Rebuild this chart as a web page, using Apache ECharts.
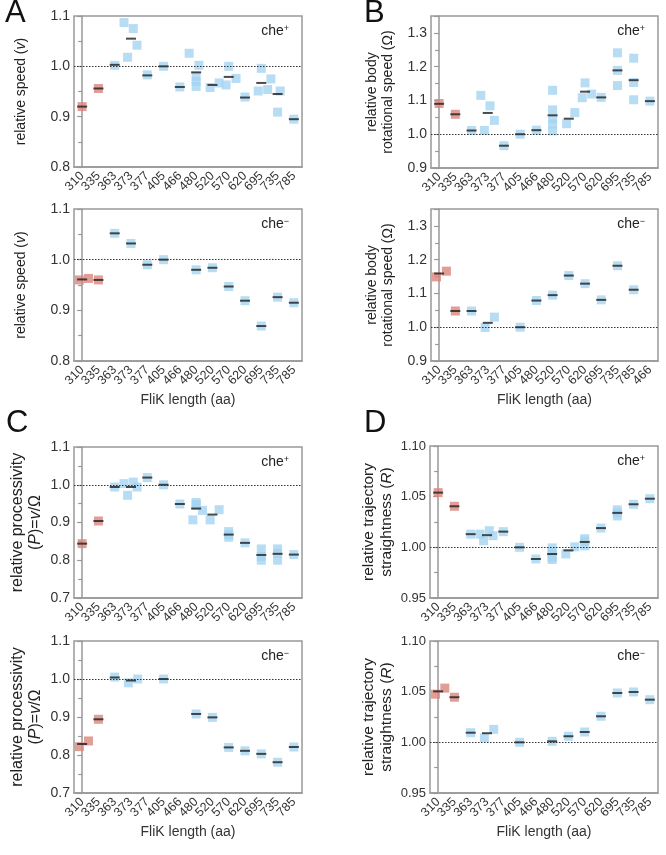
<!DOCTYPE html>
<html><head><meta charset="utf-8">
<script src="https://cdn.jsdelivr.net/npm/echarts@6/dist/echarts.min.js"></script>
<style>html,body{margin:0;padding:0;background:#fff}#c{width:666px;height:855px}</style>
</head><body><div id="c"></div>
<script>
// ---------- categories ----------
const cats = ['310','335','363','373','377','405','466','480','520','570','620','695','735','785'];
const catsBminus = ['310','335','363','373','377','405','480','520','570','620','695','735','785','466'];
const redCats = ['310','335'];

// ---------- A: relative speed ----------
const aPlusVals = [[0.92],[0.956],[1.002],[1.087,1.018,1.075,1.042],[0.983],[1.0],[0.959],[1.026,1.002,0.98,0.97,0.96],[0.958,0.967],[1.0,0.963,0.976],[0.939],[0.996,0.951,0.954],[0.975,0.951,0.909],[0.895]];
const aPlusJit  = [[0],[0],[0],[-0.43,-0.21,0.14,0.37],[0],[0],[0],[-0.43,0.17,0,0,0],[-0.14,0.41],[0,-0.16,0.45],[0],[0,-0.19,0.39],[-0.41,0.16,0],[0]];
const aPlusMean = [0.92,0.956,1.003,1.055,0.982,1.0,0.959,0.988,0.963,0.979,0.938,0.967,0.945,0.895];

const aMinusVals = [[0.96,0.963],[0.96],[1.052],[1.032],[0.99],[1.0],[],[0.98],[0.984],[0.947],[0.919],[0.869],[0.926],[0.915]];
const aMinusJit  = [[-0.17,0.39],[0],[0],[0],[0],[0],[],[0],[0],[0],[0],[0],[0],[0]];
const aMinusMean = [0.961,0.96,1.052,1.032,0.99,1.0,null,0.98,0.984,0.947,0.919,0.869,0.926,0.915];

// ---------- B: relative body rotational speed ----------
const bPlusVals = [[1.091],[1.059],[1.011],[1.115,1.011,1.084,1.041],[0.966],[1.0],[1.012],[1.13,1.072,1.045,1.03,1.01],[1.031,1.064],[1.152,1.108,1.119],[1.109],[1.241,1.189,1.144],[1.225,1.153,1.102],[1.098]];
const bPlusJit  = [[0],[0],[0],[-0.43,-0.21,0.14,0.41],[0],[0],[0],[0,0,0,0,0],[-0.14,0.37],[0,-0.17,0.41],[0],[0,0,0],[0,0,0],[0]];
const bPlusMean = [1.09,1.059,1.011,1.063,0.966,1.0,1.012,1.056,1.046,1.126,1.109,1.189,1.16,1.098];

const bMinusVals = [[1.149,1.166],[1.048],[1.048],[0.999,1.03],[],[1.0],[1.079],[1.095],[1.153],[1.129],[1.081],[1.182],[1.111],[]];
const bMinusJit  = [[-0.16,0.45],[0],[0],[-0.16,0.41],[],[0],[0],[0],[0],[0],[0],[0],[0],[]];
const bMinusMean = [1.159,1.048,1.048,1.013,null,1.0,1.079,1.095,1.153,1.129,1.081,1.182,1.111,null];

// ---------- C: relative processivity ----------
const cPlusVals = [[0.844],[0.904],[0.994],[1.003,0.972,1.007,0.994],[1.019],[1.0],[0.949],[0.953,0.907,0.932,0.945,0.948],[0.907,0.934],[0.876,0.868,0.861],[0.846],[0.83,0.81,0.80],[0.83,0.818,0.80],[0.815]];
const cPlusJit  = [[0],[0],[0],[-0.43,-0.21,0.14,0.37],[0],[0],[0],[0,-0.2,0.39,0,0],[-0.14,0.41],[0,0,0],[0],[0,0,0],[0,0,0],[0]];
const cPlusMean = [0.844,0.904,0.994,0.994,1.019,1.0,0.949,0.937,0.921,0.868,0.846,0.814,0.817,0.815];

const cMinusVals = [[0.822,0.837],[0.894],[1.005],[0.99,1.0],[],[1.0],[],[0.908],[0.899],[0.82],[0.811],[0.803],[0.781],[0.821]];
const cMinusJit  = [[-0.17,0.39],[0],[0],[-0.16,0.41],[],[0],[],[0],[0],[0],[0],[0],[0],[0]];
const cMinusMean = [0.829,0.894,1.004,0.996,null,1.0,null,0.908,0.899,0.82,0.811,0.803,0.781,0.821];

// ---------- D: relative trajectory straightness ----------
const dPlusVals = [[1.054],[1.0405],[1.013],[1.013,1.0065,1.0165,1.0115],[1.0155],[1.0],[0.9885],[0.9995,0.996,0.993,0.99,0.988],[0.9935,1.0005],[1.0085,1.0015,1.006],[1.019],[1.037,1.034,1.031],[1.0425],[1.048]];
const dPlusJit  = [[0],[0],[0],[-0.43,-0.21,0.14,0.37],[0],[0],[0],[0,0,0,0,0],[-0.16,0.39],[0,0,0],[0],[0,0,0],[0],[0]];
const dPlusMean = [1.054,1.0405,1.013,1.012,1.0155,1.0,0.9885,0.9934,0.997,1.0053,1.019,1.034,1.0425,1.048];

const dMinusVals = [[1.0475,1.0535],[1.0445],[1.0095],[1.0045,1.0128],[],[1.0],[],[1.001],[1.006],[1.0102],[1.0257],[1.0487],[1.0497],[1.0421]];
const dMinusJit  = [[-0.16,0.41],[0],[0],[-0.16,0.41],[],[0],[],[0],[0],[0],[0],[0],[0],[0]];
const dMinusMean = [1.0503,1.0445,1.0095,1.009,null,1.0,null,1.001,1.006,1.0102,1.0257,1.0487,1.0497,1.0421];

// ---------- y-axis settings ----------
const yA = {min:0.8, max:1.1, interval:0.1, dec:1};
const yB = {min:0.9, max:1.35, interval:0.1, dec:1};
const yC = {min:0.7, max:1.1, interval:0.1, dec:1};
const yD = {min:0.95, max:1.10, interval:0.05, dec:2};

const nameA = 'relative speed ({i|v})';
const nameB = 'relative body\nrotational speed (Ω)';
const nameC = 'relative processivity\n({i|P})={i|v}/Ω';
const nameD = 'relative trajectory\nstraightness ({i|R})';

const FONT = '"Liberation Sans", Arial, Helvetica, sans-serif';
const BLUE = '#a5d4f1', RED = '#d9847c', MEANC = '#1e1e1e', AX = '#999999', TXT = '#333333';

const panels = [
  {grid:{left:74, top:16, width:228, height:151}, cats:cats, vals:aPlusVals, jit:aPlusJit, mean:aPlusMean, y:yA, name:nameA, gap:45, fs:14, tfs:14, sign:'+', xname:false},
  {grid:{left:74, top:209, width:228, height:152}, cats:cats, vals:aMinusVals, jit:aMinusJit, mean:aMinusMean, y:yA, name:nameA, gap:45, fs:14, tfs:14, sign:'−', xname:true},
  {grid:{left:431, top:16, width:227, height:152}, cats:cats, vals:bPlusVals, jit:bPlusJit, mean:bPlusMean, y:yB, name:nameB, gap:35, fs:14, tfs:14, sign:'+', xname:false},
  {grid:{left:431, top:209, width:227, height:152}, cats:catsBminus, vals:bMinusVals, jit:bMinusJit, mean:bMinusMean, y:yB, name:nameB, gap:35, fs:14, tfs:14, sign:'−', xname:true},
  {grid:{left:74, top:447, width:228, height:151}, cats:cats, vals:cPlusVals, jit:cPlusJit, mean:cPlusMean, y:yC, name:nameC, gap:29, fs:16, tfs:14, sign:'+', xname:false},
  {grid:{left:74, top:641, width:228, height:152}, cats:cats, vals:cMinusVals, jit:cMinusJit, mean:cMinusMean, y:yC, name:nameC, gap:29, fs:16, tfs:14, sign:'−', xname:true},
  {grid:{left:430, top:446, width:228, height:152}, cats:cats, vals:dPlusVals, jit:dPlusJit, mean:dPlusMean, y:yD, name:nameD, gap:35, fs:15.5, tfs:13, sign:'+', xname:false},
  {grid:{left:430, top:641, width:228, height:152}, cats:cats, vals:dMinusVals, jit:dMinusJit, mean:dMinusMean, y:yD, name:nameD, gap:35, fs:15.5, tfs:13, sign:'−', xname:true}
];

const grids = [], xAxes = [], yAxes = [], series = [], graphics = [];

panels.forEach((p, i) => {
  grids.push(Object.assign({show:true, borderColor:AX, borderWidth:1.5, backgroundColor:'transparent'}, p.grid));
  xAxes.push({
    type:'category', gridIndex:i, data:p.cats, boundaryGap:true,
    axisLine:{lineStyle:{color:AX, width:1.5}},
    axisTick:{alignWithLabel:true, length:4, lineStyle:{color:AX, width:1.2}},
    axisLabel:{interval:0, rotate:45, fontSize:12.5, color:TXT, margin:7, fontFamily:FONT},
    splitLine:{show:false},
    name: p.xname ? 'FliK length (aa)' : '',
    nameLocation:'middle', nameGap:32,
    nameTextStyle:{fontSize:14, color:TXT, fontFamily:FONT}
  });
  xAxes.push({type:'value', gridIndex:i, min:-0.5, max:p.cats.length - 0.5, show:false});
  yAxes.push({
    type:'value', gridIndex:i, min:p.y.min, max:p.y.max, interval:p.y.interval,
    axisLine:{show:true, lineStyle:{color:AX, width:1.5}},
    axisTick:{show:true, length:5, lineStyle:{color:AX, width:1.2}},
    minorTick:{show:true, splitNumber:2, length:4, lineStyle:{color:AX, width:1.2}},
    splitLine:{show:false},
    axisLabel:{fontSize:p.tfs, color:TXT, margin:4, fontFamily:FONT,
      formatter:(v)=>{ const k=(v - p.y.min)/p.y.interval; return Math.abs(k-Math.round(k))<1e-6 ? v.toFixed(p.y.dec) : ''; }},
    name:p.name, nameLocation:'middle', nameGap:p.gap, nameRotate:90,
    nameTextStyle:{fontSize:p.fs, color:'#222', fontFamily:FONT, lineHeight:p.fs+2,
      rich:{i:{fontStyle:'italic', fontSize:p.fs, color:'#222', fontFamily:FONT}}}
  });
  const blue = [], red = [], means = [];
  p.vals.forEach((arr, ci) => {
    arr.forEach((v, k) => {
      const pt = [ci + ((p.jit[ci] && p.jit[ci][k]) || 0), v];
      (redCats.includes(p.cats[ci]) ? red : blue).push(pt);
    });
    if (p.mean[ci] != null) means.push([ci, p.mean[ci]]);
  });
  const common = {type:'scatter', xAxisIndex:2*i+1, yAxisIndex:i, symbol:'rect', silent:true, animation:false};
  series.push(Object.assign({}, common, {data:blue, symbolSize:9, itemStyle:{color:BLUE}, z:2}));
  series.push(Object.assign({}, common, {data:red, symbolSize:9, itemStyle:{color:RED}, z:2}));
  series.push(Object.assign({}, common, {data:means, symbolSize:[10,2], itemStyle:{color:MEANC}, z:4,
    markLine:{silent:true, symbol:'none', label:{show:false}, animation:false,
      lineStyle:{type:[1.5,1.5], color:'#333', width:1}, data:[{yAxis:1}]}}));
  // che label
  graphics.push({type:'text', right: 666 - (p.grid.left + p.grid.width) + 13, top: p.grid.top + 8,
    style:{text:'che{s|' + p.sign + '}', fill:'#222', font:'14px ' + FONT,
      rich:{s:{fontSize:9, verticalAlign:'top', fill:'#222', fontFamily:FONT}}}});
});

// panel letters
[['A',5,-2],['B',364,-2],['C',6,408],['D',364,408]].forEach(([t,x,y]) => {
  graphics.push({type:'text', left:x, top:y, style:{text:t, fill:'#111', font:'31px ' + FONT}});
});

const chart = echarts.init(document.getElementById('c'), null, {renderer:'canvas'});
chart.setOption({
  animation:false,
  grid:grids, xAxis:xAxes, yAxis:yAxes, series:series, graphic:graphics
});
</script>
</body></html>
